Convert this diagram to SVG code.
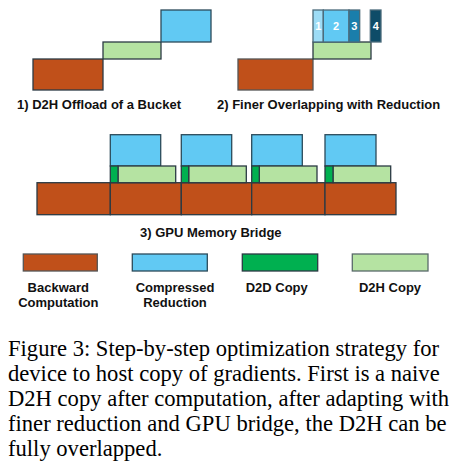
<svg xmlns="http://www.w3.org/2000/svg" width="454" height="465" viewBox="0 0 454 465">
<style>
.b{fill:#c0501a;stroke:#2b3a44;stroke-width:1.3}
.r{fill:#61c9f3;stroke:#2b4a5a;stroke-width:1.3}
.g{fill:#b5e3a2;stroke:#2b3a44;stroke-width:1.3}
.d{fill:#00b050;stroke:#2b3a44;stroke-width:1.3}
.lab{font-family:"Liberation Sans",Arial,sans-serif;font-weight:bold;font-size:13px;fill:#111}
.seg{font-family:"Liberation Sans",Arial,sans-serif;font-weight:bold;font-size:11px;fill:#fff;text-anchor:middle}
.cap{font-family:"Liberation Serif","Times New Roman",serif;font-size:22.6px;fill:#000}
</style>
<g id="panel1">
<rect class="b" x="33" y="59" width="70" height="31"/>
<rect class="g" x="103" y="42" width="58" height="17"/>
<rect class="r" x="161" y="10" width="50" height="32"/>
<text class="lab" x="17" y="109">1) D2H Offload of a Bucket</text>
</g>
<g id="panel2">
<rect class="b" x="238" y="59" width="75" height="31" style="stroke:#555"/>
<rect class="g" x="313" y="42" width="58" height="17"/>
<rect x="313" y="10" width="10.3" height="32" fill="#9ddcf6" stroke="#4a6a7a" stroke-width="1.3"/>
<rect x="323.3" y="10" width="25.7" height="32" fill="#61c9f3" stroke="#4a6a7a" stroke-width="1.3"/>
<rect x="349" y="10" width="10.7" height="32" fill="#1a7eab" stroke="#4a6a7a" stroke-width="1.3"/>
<rect x="370.3" y="10" width="10.7" height="32" fill="#0e4c68" stroke="#4a6a7a" stroke-width="1.3"/>
<text class="seg" x="318.2" y="30">1</text>
<text class="seg" x="336" y="30">2</text>
<text class="seg" x="354.4" y="30">3</text>
<text class="seg" x="375.7" y="30">4</text>
<text class="lab" x="217" y="109">2) Finer Overlapping with Reduction</text>
</g>
<g id="panel3">
<rect class="b" x="37" y="182.7" width="73.3" height="32"/>
<rect class="b" x="110.3" y="182.7" width="71" height="32"/>
<rect class="b" x="181.3" y="182.7" width="70.4" height="32"/>
<rect class="b" x="251.7" y="182.7" width="73.3" height="32"/>
<rect class="b" x="325" y="182.7" width="71" height="32"/>
<rect class="r" x="110.3" y="134.7" width="50.4" height="31.3"/>
<rect class="r" x="181.3" y="134.7" width="50.4" height="31.3"/>
<rect class="r" x="251.7" y="134.7" width="50.6" height="31.3"/>
<rect class="r" x="325" y="134.7" width="51" height="31.3"/>
<rect class="g" x="118" y="166" width="57.7" height="16.7"/>
<rect class="g" x="188.7" y="166" width="57.6" height="16.7"/>
<rect class="g" x="259.3" y="166" width="57.7" height="16.7"/>
<rect class="g" x="333" y="166" width="57.7" height="16.7"/>
<rect class="d" x="110.3" y="166" width="7.7" height="16.7"/>
<rect class="d" x="181.3" y="166" width="7.4" height="16.7"/>
<rect class="d" x="251.7" y="166" width="7.6" height="16.7"/>
<rect class="d" x="325" y="166" width="8" height="16.7"/>
<text class="lab" x="140" y="237">3) GPU Memory Bridge</text>
</g>
<g id="legend">
<rect class="b" x="23.3" y="254" width="74" height="17" style="stroke:#555"/>
<rect class="r" x="132.3" y="254" width="75" height="17"/>
<rect class="d" x="242.3" y="254" width="75.4" height="17"/>
<rect class="g" x="352.3" y="254" width="75.7" height="17" style="stroke:#5a6a6a"/>
<text class="lab" text-anchor="middle" x="58.3" y="291.5">Backward</text>
<text class="lab" text-anchor="middle" x="58.3" y="307">Computation</text>
<text class="lab" text-anchor="middle" x="175" y="291.5">Compressed</text>
<text class="lab" text-anchor="middle" x="175" y="307">Reduction</text>
<text class="lab" text-anchor="middle" x="276.7" y="291.5">D2D Copy</text>
<text class="lab" text-anchor="middle" x="390" y="291.5">D2H Copy</text>
</g>
<g id="caption">
<text class="cap" x="8" y="356">Figure 3: Step-by-step optimization strategy for</text>
<text class="cap" x="8" y="381">device to host copy of gradients. First is a naive</text>
<text class="cap" x="8" y="406">D2H copy after computation, after adapting with</text>
<text class="cap" x="8" y="431">finer reduction and GPU bridge, the D2H can be</text>
<text class="cap" x="8" y="456">fully overlapped.</text>
</g>
</svg>
